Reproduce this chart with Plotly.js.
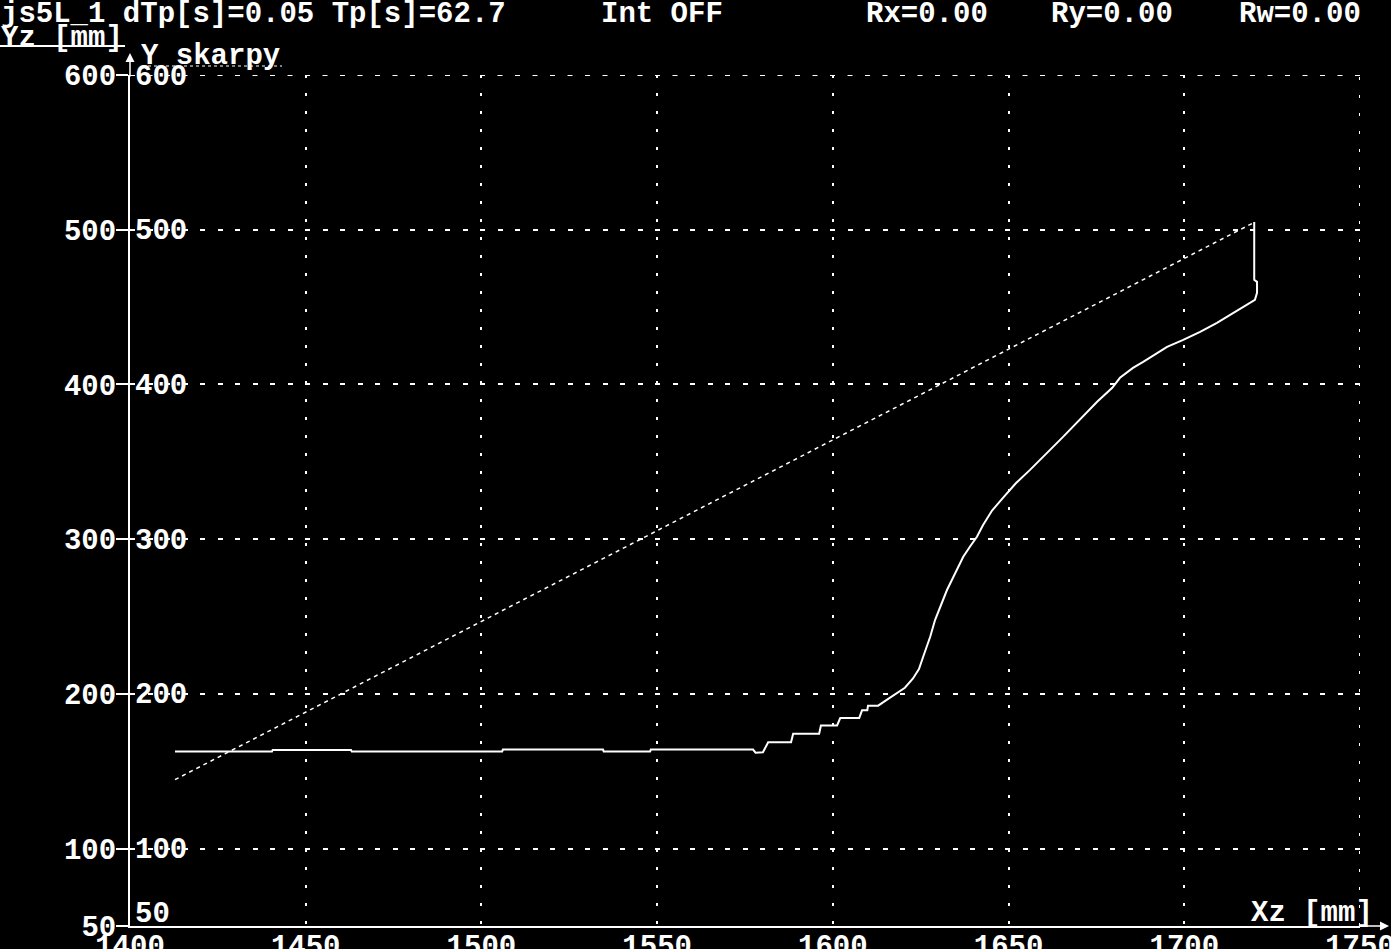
<!DOCTYPE html>
<html>
<head>
<meta charset="utf-8">
<script src="https://cdn.plot.ly/plotly-3.0.1.min.js"></script>
<style>html,body{margin:0;padding:0;background:#000;}#chart{width:1391px;height:949px;}</style>
</head>
<body>
<div id="chart"></div>
<script>
// ---- data ----
const curveX = [1412.8, 1440.4, 1440.6, 1462.9, 1463.1, 1505.9, 1506.1, 1534.6, 1534.8, 1548.0, 1548.2, 1577.3, 1578.0, 1580.1, 1581.6, 1588.1, 1588.7, 1596.1, 1596.6, 1601.2, 1602.1, 1607.5, 1608.3, 1609.8, 1610.0, 1612.9, 1614.9, 1617.7, 1620.5, 1622.8, 1624.5, 1625.7, 1627.7, 1629.1, 1630.5, 1632.5, 1633.9, 1635.6, 1637.1, 1639.0, 1641.0, 1642.7, 1643.9, 1645.3, 1648.4, 1652.0, 1656.1, 1665.5, 1675.2, 1679.5, 1681.7, 1685.4, 1688.3, 1692.3, 1695.1, 1699.7, 1704.5, 1709.3, 1713.9, 1717.9, 1720.1, 1720.7, 1720.7, 1719.9, 1719.9];
const curveY = [162.7, 162.7, 163.8, 163.8, 162.7, 162.7, 164.0, 164.0, 162.7, 162.7, 164.0, 164.0, 162.0, 162.3, 168.7, 168.7, 174.3, 174.3, 179.6, 179.6, 184.4, 184.4, 189.4, 189.4, 192.4, 192.4, 195.5, 199.5, 204.0, 210.0, 216.0, 224.0, 236.9, 247.9, 256.3, 267.3, 273.8, 282.2, 288.6, 295.1, 301.6, 309.0, 313.8, 318.5, 326.7, 336.0, 344.8, 366.1, 388.8, 397.8, 404.3, 410.7, 414.6, 420.4, 424.3, 428.8, 434.0, 439.8, 446.3, 451.4, 454.7, 459.2, 466.3, 467.6, 505.0];
const slopeX = [1412.8, 1720.1];
const slopeY = [144.6, 505.0];
const xTicks = [1400, 1450, 1500, 1550, 1600, 1650, 1700, 1750];
const yTicks = [50, 100, 200, 300, 400, 500, 600];
const yTickText = ['50', '100', '200', '300', '400', '500', '600'];
const headerTexts = ['js5L_1 dTp[s]=0.05 Tp[s]=62.7', 'Int OFF', 'Rx=0.00', 'Ry=0.00', 'Rw=0.00'];
const headerPx = [0, 600, 865, 1050, 1238];
const yTitle = 'Yz [mm]';
const xTitle = 'Xz [mm]';
const seriesTitle = 'Y skarpy';

// ---- layout helpers ----
const L = 130, T = 75, PW = 1230, PH = 851;
const FONT = {family: 'Liberation Mono, DejaVu Sans Mono, monospace', size: 29, color: '#fff', weight: 'bold'};
const px2paperX = p => (p - L) / PW;
const py2paperY = p => 1 - (p - T) / PH;

const annotations = [];
headerTexts.forEach((t, i) => annotations.push({
  text: t, xref: 'paper', yref: 'paper', x: px2paperX(headerPx[i]), y: py2paperY(14),
  xanchor: 'left', yanchor: 'middle', showarrow: false, font: FONT, borderpad: 0
}));
annotations.push({text: yTitle, xref: 'paper', yref: 'paper', x: px2paperX(0), y: py2paperY(38),
  xanchor: 'left', yanchor: 'middle', showarrow: false, font: FONT, borderpad: 0});
annotations.push({text: seriesTitle, xref: 'paper', yref: 'paper', x: px2paperX(140), y: py2paperY(57),
  xanchor: 'left', yanchor: 'middle', showarrow: false, font: FONT, borderpad: 0});
annotations.push({text: xTitle, xref: 'paper', yref: 'paper', x: px2paperX(1374), y: py2paperY(913),
  xanchor: 'right', yanchor: 'middle', showarrow: false, font: FONT, borderpad: 0});
// inner duplicate y labels
yTicks.forEach((v, i) => annotations.push({
  text: yTickText[i], xref: 'paper', yref: 'y', x: 0, y: v, xshift: 4, yshift: (v === 50 ? 12 : -2),
  xanchor: 'left', yanchor: 'middle', showarrow: false, font: FONT, borderpad: 0
}));
// axis arrowheads
annotations.push({text: '', xref: 'paper', yref: 'paper', x: 0, y: py2paperY(53),
  axref: 'pixel', ayref: 'pixel', ax: 0, ay: 25, showarrow: true, arrowhead: 2, arrowsize: 1.2, arrowwidth: 1.5, arrowcolor: '#fff'});
annotations.push({text: '', xref: 'paper', yref: 'paper', x: px2paperX(1389), y: 0,
  axref: 'pixel', ayref: 'pixel', ax: -30, ay: 0, showarrow: true, arrowhead: 2, arrowsize: 1.2, arrowwidth: 1.5, arrowcolor: '#fff'});

const xMax = xTicks[xTicks.length - 1], xMin = xTicks[0];
const yMax = yTicks[yTicks.length - 1], yMin = yTicks[0];
const shapes = [
  {type: 'line', xref: 'paper', yref: 'paper', x0: px2paperX(0), x1: px2paperX(125), y0: py2paperY(46), y1: py2paperY(46), line: {color: '#fff', width: 2}},
  {type: 'line', xref: 'paper', yref: 'paper', x0: px2paperX(142), x1: px2paperX(282), y0: py2paperY(66), y1: py2paperY(66), line: {color: '#fff', width: 1, dash: '3px,3px'}},
  // edge gridlines that plotly hides at the range boundary
  {type: 'line', xref: 'x', yref: 'y', x0: xMin, x1: xMax, y0: yMax, y1: yMax, layer: 'below', line: {color: '#fff', width: 2, dash: '5px,12.5px'}},
  {type: 'line', xref: 'x', yref: 'y', x0: xMax, x1: xMax, y0: yMin, y1: yMax, layer: 'below', line: {color: '#fff', width: 2, dash: '3px,15px'}}
];

const data = [
  {x: slopeX, y: slopeY, type: 'scatter', mode: 'lines', line: {color: '#fff', width: 1.5, dash: '4px,4px'}, hoverinfo: 'skip'},
  {x: curveX, y: curveY, type: 'scatter', mode: 'lines', line: {color: '#fff', width: 2}, hoverinfo: 'skip'}
];

const layout = {
  width: 1391, height: 949,
  margin: {l: L, r: 1391 - L - PW, t: T, b: 949 - T - PH, pad: 0},
  paper_bgcolor: '#000', plot_bgcolor: '#000',
  showlegend: false,
  font: FONT,
  xaxis: {
    range: [1400, 1750], tickvals: xTicks, ticktext: xTicks.map(String),
    showgrid: true, gridcolor: '#fff', gridwidth: 2, griddash: '3px,15px',
    showline: true, linecolor: '#fff', linewidth: 2, zeroline: false,
    ticks: '', tickfont: FONT, ticklabelstandoff: -8, ticklabeloverflow: 'allow', fixedrange: true
  },
  yaxis: {
    range: [50, 600], tickvals: yTicks, ticktext: yTickText,
    showgrid: true, gridcolor: '#fff', gridwidth: 2, griddash: '5px,12.5px',
    showline: true, linecolor: '#fff', linewidth: 2, zeroline: false,
    ticks: 'outside', ticklen: 12, tickwidth: 2, tickcolor: '#fff', tickfont: FONT,
    ticklabelstandoff: -6, ticklabeloverflow: 'allow', fixedrange: true
  },
  annotations: annotations,
  shapes: shapes
};

Plotly.newPlot('chart', data, layout, {staticPlot: true, displayModeBar: false});
</script>
</body>
</html>
